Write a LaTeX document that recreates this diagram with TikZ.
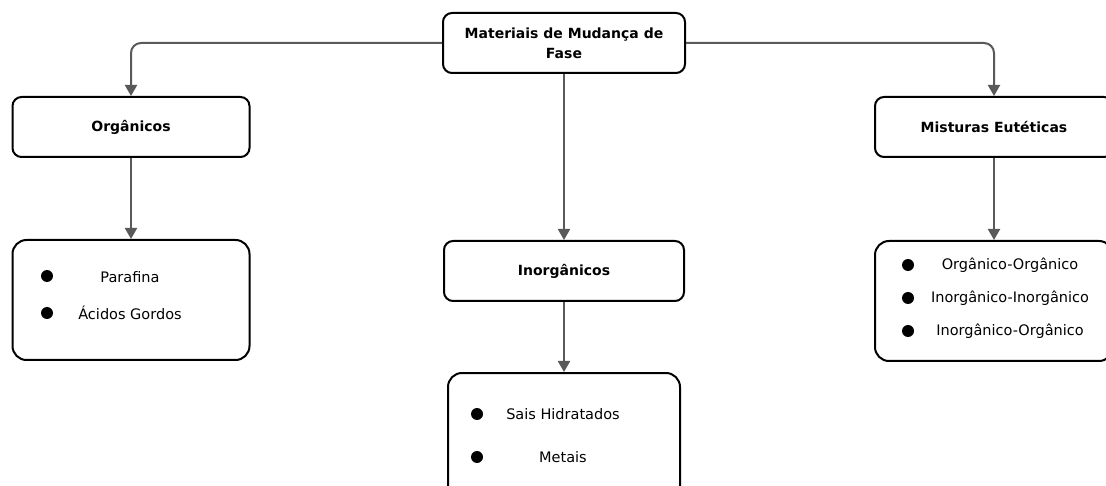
\documentclass[tikz,border=0pt]{standalone}
\usepackage{fontspec}
\setmainfont{DejaVu Sans}
\usetikzlibrary{arrows.meta}

\tikzset{
    box/.style={draw=black, line width=2pt, rounded corners=9pt, fill=white, align=center, font=\bfseries\fontsize{14}{20}\selectfont},
    listbox/.style={draw=black, line width=2pt, rounded corners=14pt, fill=white},
    item/.style={font=\fontsize{14.5}{16}\selectfont},
    link/.style={draw=black!65, line width=2pt, -{Triangle[length=11pt, width=12pt]}},
}

\begin{document}
\begin{tikzpicture}[x=1pt, y=-1pt]
    \useasboundingbox (0,0) rectangle (1106,486);
    \clip (0,0) rectangle (1106,486);

    % main boxes
    \node[box, minimum width=242pt, minimum height=60pt] (mcf) at (564,43) {Materiais de Mudança de\\Fase};
    \node[box, minimum width=237pt, minimum height=60pt] (org) at (131,127) {Orgânicos};
    \node[box, minimum width=240pt, minimum height=60pt] (inorg) at (564,271) {Inorgânicos};
    \node[box, minimum width=238pt, minimum height=60pt] (mist) at (994,127) {Misturas Eutéticas};

    % lists
    \node[listbox, minimum width=237pt, minimum height=120pt] (orglist) at (131,300) {};
    \node[listbox, minimum width=232pt, minimum height=130pt] (inorglist) at (564,438) {};
    \node[listbox, minimum width=238pt, minimum height=120pt] (mistlist) at (994,301) {};

    \fill (47,276) circle(6pt);
    \fill (47,313) circle(6pt);
    \node[item] (parafina) at (130,277) {Parafina};
    \node[item] (acidos) at (130,313) {Ácidos Gordos};

    \fill (477,414) circle(6pt);
    \fill (477,457) circle(6pt);
    \node[item] (sais) at (563,414) {Sais Hidratados};
    \node[item] (metais) at (563,457) {Metais};

    \fill (908,265) circle(6pt);
    \fill (908,298) circle(6pt);
    \fill (908,331) circle(6pt);
    \node[item] (oo) at (1010,265) {Orgânico-Orgânico};
    \node[item] (ii) at (1010,298) {Inorgânico-Inorgânico};
    \node[item] (io) at (1010,331) {Inorgânico-Orgânico};

    % connectors
    \draw[link, rounded corners=10pt] (mcf.west) -| (org.north);
    \draw[link, rounded corners=10pt] (mcf.east) -| (mist.north);
    \draw[link] (mcf.south) -- (inorg.north);
    \draw[link] (org.south) -- (orglist.north);
    \draw[link] (inorg.south) -- (inorglist.north);
    \draw[link] (mist.south) -- (mistlist.north);
\end{tikzpicture}
\end{document}
